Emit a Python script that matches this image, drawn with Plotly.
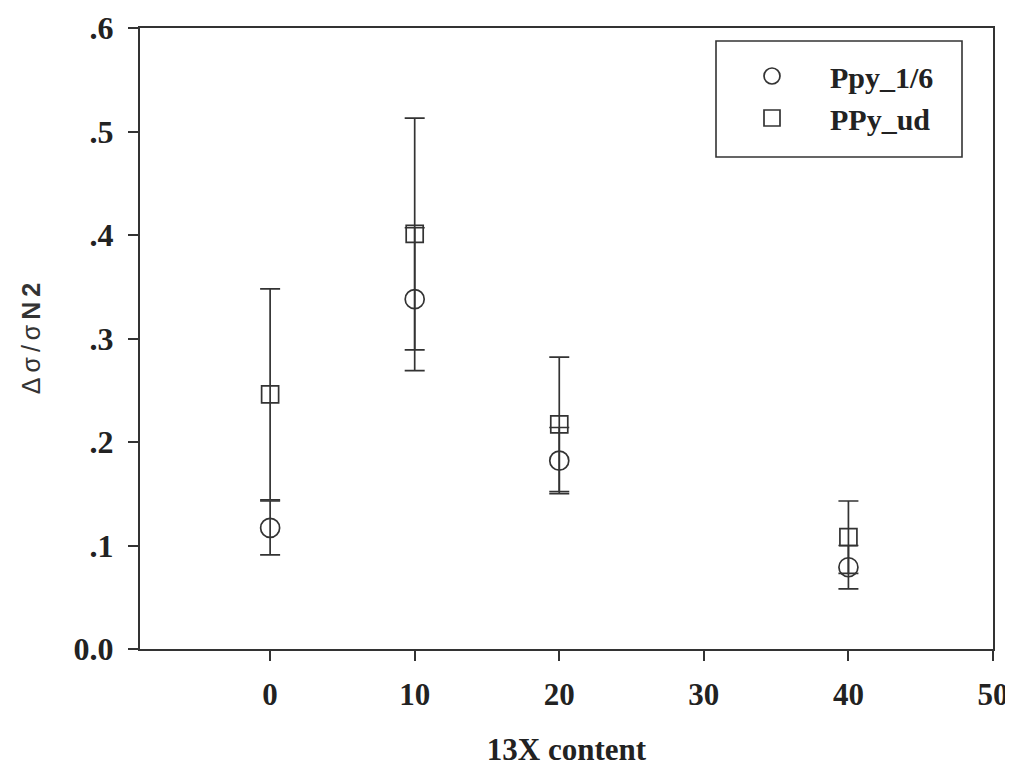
import plotly.graph_objects as go

x_vals = [0, 10, 20, 40]

ppy16_y = [0.117, 0.338, 0.182, 0.079]
ppy16_err = [0.026, 0.069, 0.032, 0.021]

ppyud_y = [0.246, 0.401, 0.217, 0.108]
ppyud_err = [0.102, 0.112, 0.065, 0.035]

y_tickvals = [0.0, 0.1, 0.2, 0.3, 0.4, 0.5, 0.6]
y_ticktext = ["0.0", ".1", ".2", ".3", ".4", ".5", ".6"]
x_tickvals = [0, 10, 20, 30, 40, 50]
x_ticktext = ["0", "10", "20", "30", "40", "50"]

INK = "#333333"
SERIF = "Liberation Serif, Times New Roman, serif"
SANS = "Liberation Sans, Arial, sans-serif"
TS = "\u2009"

# page offset of the plot div (body margin) is 8 px
PL, PT, PW, PH = 140, 28, 853, 621  # plot area in screen px


def px_x(x):
    return (x - PL) / PW


def px_y(y):
    return (PT + PH - y) / PH


fig = go.Figure()

fig.add_trace(go.Scatter(
    x=x_vals, y=ppy16_y, mode="markers", name="<b>Ppy_1/6</b>",
    marker=dict(symbol="circle-open", size=19, color=INK, line=dict(width=1.7, color=INK)),
    error_y=dict(type="data", array=ppy16_err, visible=True, color=INK, thickness=1.7, width=10),
))
fig.add_trace(go.Scatter(
    x=x_vals, y=ppyud_y, mode="markers", name="<b>PPy_ud</b>",
    marker=dict(symbol="square-open", size=17, color=INK, line=dict(width=1.7, color=INK)),
    error_y=dict(type="data", array=ppyud_err, visible=True, color=INK, thickness=1.7, width=10),
))

# legend frame
fig.add_shape(type="rect", xref="paper", yref="paper",
              x0=px_x(716), x1=px_x(962), y0=px_y(157), y1=px_y(41),
              line=dict(color=INK, width=1.6), fillcolor="rgba(0,0,0,0)")

fig.update_layout(
    width=1005, height=765,
    margin=dict(l=132, r=20, t=20, b=124),
    paper_bgcolor="white", plot_bgcolor="white",
    font=dict(family=SERIF, color="#222222", size=31),
    showlegend=True,
    legend=dict(x=px_x(714), y=px_y(50), xanchor="left", yanchor="top",
                bgcolor="rgba(0,0,0,0)", borderwidth=0,
                font=dict(family=SERIF, size=30, color="#222222"),
                itemwidth=106),
    xaxis=dict(range=[-9, 50], tickvals=x_tickvals, ticktext=["<b>" + t + "</b>" for t in x_ticktext],
               ticks="outside", ticklen=10, tickwidth=2,
               tickcolor=INK, showline=True, linecolor=INK, linewidth=2, mirror=True,
               showgrid=False, zeroline=False, tickfont=dict(family=SERIF, size=31),
               ticklabelstandoff=7, automargin=False,
               title=dict(text="<b>13X content</b>", font=dict(family=SERIF, size=31), standoff=27)),
    yaxis=dict(range=[0, 0.6], tickvals=y_tickvals, ticktext=["<b>" + t + "</b>" for t in y_ticktext],
               ticks="outside", ticklen=10, tickwidth=2, tickcolor=INK, showline=True,
               linecolor=INK, linewidth=2, mirror=True, showgrid=False, zeroline=False,
               tickfont=dict(family=SERIF, size=32), ticklabelstandoff=8, automargin=False,
               title=dict(text=TS.join(["Δ", "σ", "/", "σ"]) + TS + "<b>N" + TS + "2</b>",
                          font=dict(family=SANS, size=25, color="#333333"),
                          standoff=26)),
)

fig.write_html("out.html")
